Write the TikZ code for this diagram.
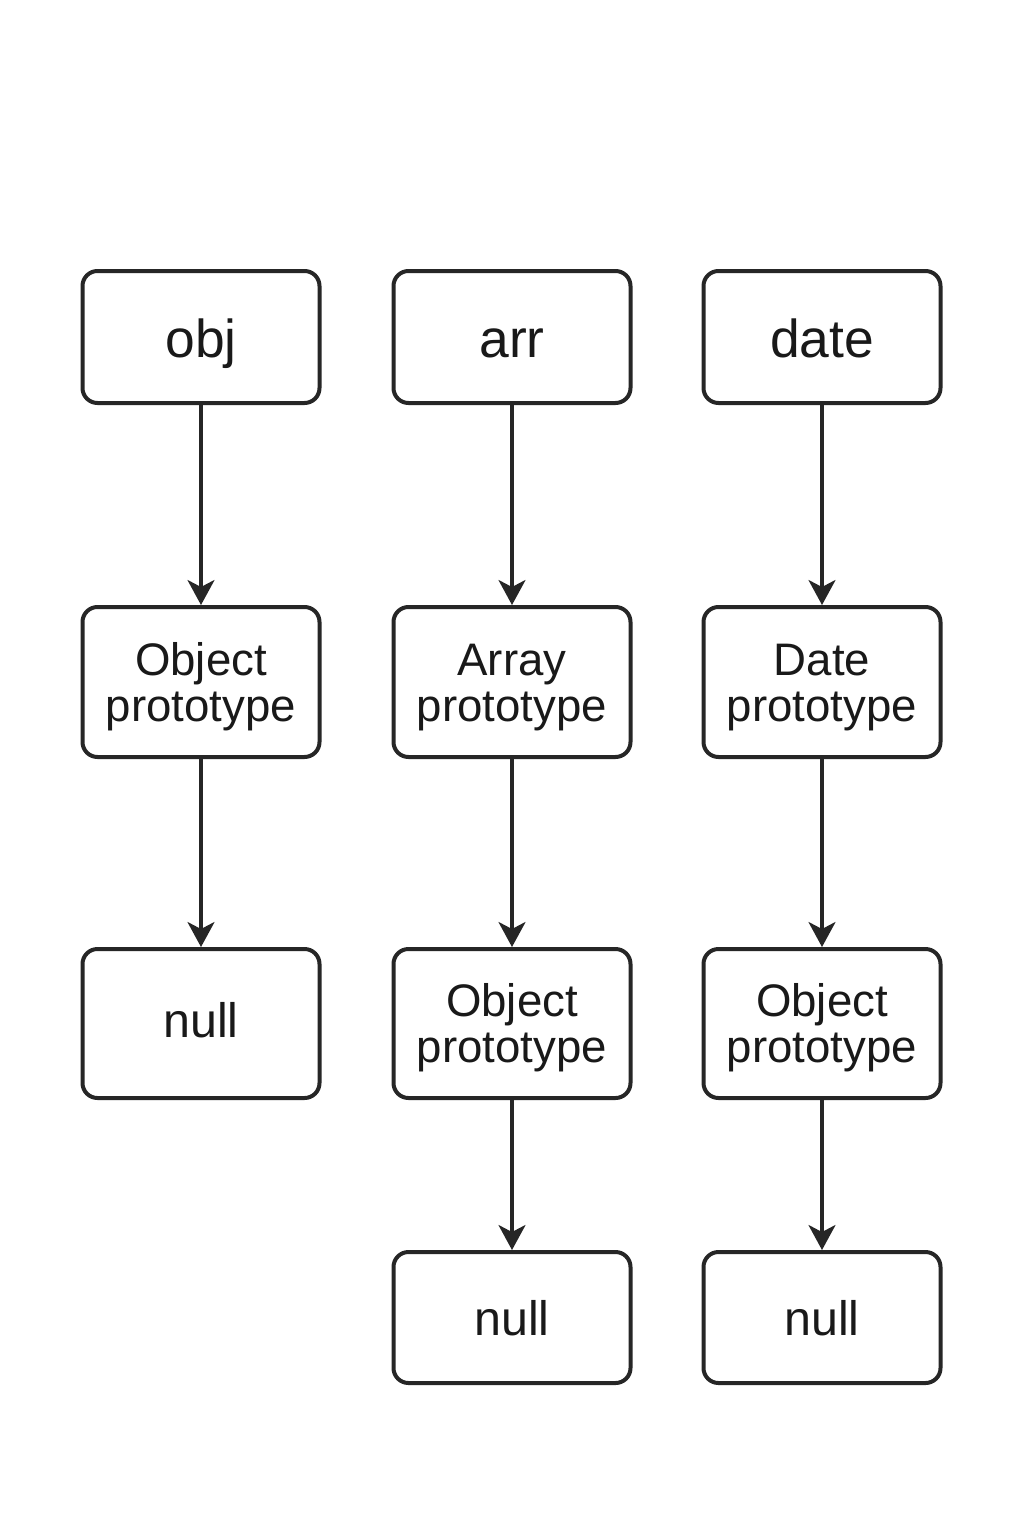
\documentclass[tikz,border=0pt]{standalone}
\usepackage{fontspec}
\setmainfont{Liberation Sans}
\usetikzlibrary{arrows.meta}
\begin{document}
\begin{tikzpicture}[x=0.5pt,y=-0.5pt,
  box/.style={draw=black!85, line width=2pt, rounded corners=7.5pt, fill=white,
    minimum width=118.5pt, align=center, inner sep=0pt, text=black!90},
  toplbl/.style={box, minimum height=66pt, font=\fontsize{26.7}{30}\selectfont,
    text height=20pt, text depth=0pt},
  protolbl/.style={box, minimum height=75pt, font=\fontsize{22.8}{23}\selectfont,
    text height=39.4pt, text depth=0pt},
  nulllbl/.style={box, font=\fontsize{24.2}{28}\selectfont,
    text height=17.5pt, text depth=4pt},
  conn/.style={draw=black!85, line width=1.6pt, -{Stealth[length=12.5pt,width=13.5pt,inset=3.5pt]}}
]
\fill[white] (0,0) rectangle (1024,1536);
\useasboundingbox (0,0) rectangle (1024,1536);

\node[toplbl] (obj) at (201,337) {obj};
\node[toplbl] (arr) at (512,337) {arr};
\node[toplbl] (date) at (822,337) {date};

\node[protolbl] (objp) at (201,682) {Object\\prototype};
\node[protolbl] (arrp) at (512,682) {Array\\prototype};
\node[protolbl] (datep) at (822,682) {Date\\prototype};

\node[nulllbl, minimum height=74.5pt] (null1) at (201,1023.5) {null};
\node[protolbl, minimum height=74.5pt] (arrop) at (512,1023.5) {Object\\prototype};
\node[protolbl, minimum height=74.5pt] (dateop) at (822,1023.5) {Object\\prototype};

\node[nulllbl, minimum height=65.5pt, text depth=0pt] (null2) at (512,1317.5) {null};
\node[nulllbl, minimum height=65.5pt, text depth=0pt] (null3) at (822,1317.5) {null};

\draw[conn] (obj) -- (objp);
\draw[conn] (arr) -- (arrp);
\draw[conn] (date) -- (datep);
\draw[conn] (objp) -- (null1);
\draw[conn] (arrp) -- (arrop);
\draw[conn] (datep) -- (dateop);
\draw[conn] (arrop) -- (null2);
\draw[conn] (dateop) -- (null3);
\end{tikzpicture}
\end{document}
